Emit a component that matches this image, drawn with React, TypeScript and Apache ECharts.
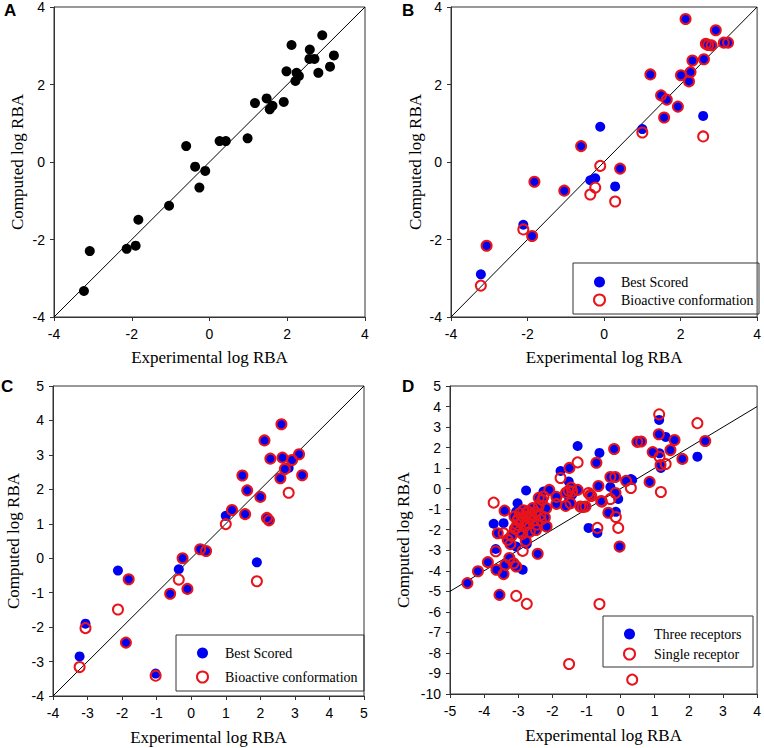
import React, { useEffect, useRef } from "react";
import * as echarts from "echarts";

// Panel A: experimental vs computed
const aExp = [-3.23, -3.08, -2.13, -1.9, -1.83, -1.04, -0.6, -0.37, -0.26, -0.11, 0.26, 0.42, 0.98, 1.17, 1.47, 1.55, 1.62, 1.91, 1.98, 2.11, 2.21, 2.24, 2.3, 2.58, 2.57, 2.7, 2.8, 2.9, 3.1, 3.2];
const aComp = [-3.33, -2.3, -2.24, -2.16, -1.49, -1.13, 0.41, -0.12, -0.66, -0.23, 0.54, 0.54, 0.61, 1.52, 1.64, 1.36, 1.45, 1.55, 2.34, 3.02, 2.09, 2.3, 2.22, 2.9, 2.66, 2.66, 2.3, 3.27, 2.46, 2.75];

// Panel B
const bExp = [-3.22, -3.07, -2.11, -1.88, -1.82, -1.04, -0.6, -0.36, -0.23, -0.1, 0.29, 0.42, 1.0, 1.21, 1.49, 1.57, 1.64, 1.93, 2.01, 2.13, 2.22, 2.26, 2.31, 2.59, 2.61, 2.66, 2.72, 2.81, 2.92, 3.13, 3.24];
const bBest = [-2.9, -2.16, -1.62, -1.91, -0.51, -0.74, 0.41, -0.47, -0.42, 0.91, -0.63, -0.17, 0.85, 2.26, 1.72, 1.15, 1.61, 1.43, 2.24, 3.69, 2.08, 2.32, 2.62, 1.19, 2.65, 3.05, 3.02, 3.01, 3.4, 3.08, 3.08];
const bBio = [-3.19, -2.16, -1.74, -1.91, -0.51, -0.74, 0.41, -0.84, -0.66, -0.1, -1.02, -0.17, 0.76, 2.26, 1.72, 1.15, 1.61, 1.43, 2.24, 3.69, 2.08, 2.32, 2.62, 0.66, 2.65, 3.05, 3.02, 3.01, 3.4, 3.08, 3.08];

// Panel C
const cExp = [-3.23, -3.06, -2.12, -1.89, -1.81, -1.03, -0.61, -0.36, -0.25, -0.11, 0.26, 0.43, 1.0, 1.18, 1.48, 1.56, 1.62, 1.9, 2.0, 2.12, 2.19, 2.25, 2.29, 2.58, 2.61, 2.64, 2.71, 2.82, 2.92, 3.12, 3.21];
const cBest = [-2.85, -1.9, -0.36, -2.45, -0.61, -3.35, -1.03, -0.32, 0.0, -0.89, 0.26, 0.21, 1.23, 1.4, 2.4, 1.28, 1.97, -0.12, 1.78, 3.42, 1.17, 1.1, 2.89, 2.32, 3.89, 2.92, 2.59, 2.62, 2.85, 3.02, 2.41];
const cBio = [-3.16, -2.03, -1.49, -2.45, -0.61, -3.41, -1.03, -0.62, 0.0, -0.89, 0.26, 0.21, 0.99, 1.4, 2.4, 1.28, 1.97, -0.67, 1.78, 3.42, 1.17, 1.1, 2.89, 2.32, 3.89, 2.92, 2.59, 1.9, 2.85, 3.02, 2.41];

// Panel D
const dExp = [-4.49, -4.18, -3.89, -3.64, -3.66, -3.72, -3.6, -3.55, -3.43, -3.43, -3.4, -3.38, -3.31, -3.26, -3.23, -3.14, -3.06, -3.06, -3.11, -3.03, -3.02, -3.06, -2.97, -2.87, -2.75, -2.77, -2.61, -2.48, -2.43, -2.34, -2.17, -2.26, -2.09, -1.88, -1.76, -1.61, -1.52, -1.5, -1.47, -1.42, -1.51, -1.26, -1.26, -1.18, -1.11, -0.94, -0.86, -0.71, -0.62, -0.65, -0.68, -0.57, -0.36, -0.3, -0.3, -0.19, -0.16, -0.15, -0.14, -0.07, -0.03, 0.16, 0.3, 0.34, 0.49, 0.6, 0.85, 0.94, 1.12, 1.13, 1.14, 1.18, 1.32, 1.17, 1.46, 1.58, 1.81, 2.25, 2.48, -0.89, -1.03, -0.55, -3.0, -2.95, -2.9, -2.85, -2.82, -2.78, -2.72, -2.7, -2.66, -2.62, -2.58, -2.55, -2.5, -2.45, -2.4, -2.35, -2.3, -2.22, -2.18, -2.88, -3.1, -3.2, -2.65, -2.78, -1.88, -2.4, -1.6, -1.45];
const dThree = [-4.6, -4.02, -3.58, -3.95, -2.94, -1.71, -2.17, -5.17, -4.16, -1.68, -1.07, -3.71, -2.49, -3.38, -2.7, -3.63, -3.79, -2.82, -1.36, -1.76, -0.71, -1.11, -2.09, -3.95, -2.7, -0.09, -1.36, -2.01, -3.17, -1.52, -1.84, -0.14, -0.06, -0.74, 0.86, -0.84, 0.35, 1.01, -0.71, -0.3, -0.45, 2.08, -0.06, -0.87, -0.89, -1.91, -0.36, 1.26, 1.74, 0.13, -2.16, -0.6, -1.17, 0.57, 0.08, 1.93, 0.57, -0.21, -1.13, -0.5, -2.82, 0.38, 0.47, 0.42, 2.28, 2.3, 0.33, 1.78, 2.65, 3.35, 1.72, 1.01, 2.52, 1.15, 1.88, 2.37, 1.45, 1.56, 2.32, -0.3, -0.87, -0.63, -1.45, -1.2, -1.6, -1.05, -1.85, -1.35, -1.1, -1.7, -2.1, -1.25, -0.95, -1.55, -1.15, -1.75, -0.85, -1.3, -0.55, -1.4, -0.95, -2.2, -1.95, -2.3, -1.45, -2.55, -0.4, -0.45, -0.2, 0.05];
const dSingle = [-4.6, -4.02, -3.58, -3.95, -3.05, -0.68, -2.17, -5.17, -4.16, -2.17, -1.07, -3.71, -2.49, -3.38, -2.7, -3.63, -3.79, -5.22, -1.36, -1.76, -1.55, -1.9, -2.09, -3.03, -5.61, -1.2, -1.36, -2.01, -3.17, -1.52, -1.84, -0.38, -0.06, -0.74, 0.52, -0.84, -0.1, 1.01, -0.71, -0.14, -8.54, 1.28, -0.06, -0.87, -0.89, -0.21, -0.36, 1.26, -5.62, 0.13, -1.91, -0.6, -1.17, 0.57, -0.5, 1.93, 0.57, -0.21, -1.38, -1.91, -2.82, 0.38, 0.03, -9.3, 2.28, 2.3, 0.33, 1.78, 2.65, 3.62, 1.55, -0.16, 1.2, 1.15, 1.88, 2.37, 1.45, 3.19, 2.32, -0.3, -0.87, -0.63, -1.45, -1.2, -1.6, -1.05, -1.85, -1.35, -1.1, -1.7, -2.1, -1.25, -0.95, -1.55, -1.15, -1.75, -0.85, -1.3, -0.55, -1.4, -0.95, -2.2, -1.95, -2.3, -1.45, -2.55, -0.4, -0.45, -0.2, 0.05];

const SANS = "'Liberation Sans', Arial, sans-serif";
const SERIF = "'Liberation Serif', 'Times New Roman', serif";
const BLUE = "#0000f0";
const RED = "#e8141b";
const AXIS = "#333";

const zip = (xs: number[], ys: number[]) => xs.map((x, i) => [x, ys[i]]);

function makeAxis(gridIndex: number, min: number, max: number, interval: number, dim: "x" | "y", nameGap: number) {
  return {
    gridIndex,
    type: "value",
    min,
    max,
    interval,
    name: dim === "x" ? "Experimental log RBA" : "Computed log RBA",
    nameLocation: "middle",
    nameGap,
    nameTextStyle: { fontFamily: SERIF, fontSize: 17, color: "#000" },
    axisLine: { show: true, onZero: false, lineStyle: { color: AXIS, width: 1 } },
    axisTick: { show: true, inside: false, length: 4, lineStyle: { color: AXIS } },
    axisLabel: { fontFamily: SANS, fontSize: 14, color: "#000", margin: dim === "x" ? 10 : 9 },
    splitLine: { show: false },
  };
}

const diag = (idx: number, lo: number, hi: number) => ({
  type: "line",
  xAxisIndex: idx,
  yAxisIndex: idx,
  data: [[lo, lo], [hi, hi]],
  symbol: "none",
  lineStyle: { color: "#000", width: 1 },
  z: 1,
  silent: true,
});

const filled = (name: string, idx: number, data: number[][], color: string) => ({
  type: "scatter",
  name,
  xAxisIndex: idx,
  yAxisIndex: idx,
  data,
  symbol: "circle",
  symbolSize: 10,
  itemStyle: { color, opacity: 1 },
  z: 2,
});

const open = (name: string, idx: number, data: number[][]) => ({
  type: "scatter",
  name,
  xAxisIndex: idx,
  yAxisIndex: idx,
  data,
  symbol: "circle",
  symbolSize: 10,
  itemStyle: { color: "rgba(255,255,255,0)", borderColor: RED, borderWidth: 2, opacity: 1 },
  z: 3,
});

function legend(left: number, top: number, gap: number, pad: number, names: [string, string]) {
  return {
    left,
    top,
    orient: "vertical",
    itemGap: gap,
    itemWidth: 11,
    itemHeight: 11,
    padding: 0,
    selectedMode: false,
    data: [
      { name: names[0], icon: "circle", itemStyle: { color: BLUE } },
      { name: names[1], icon: "circle", itemStyle: { color: "#fff", borderColor: RED, borderWidth: 2 } },
    ],
    textStyle: { fontFamily: SERIF, fontSize: 14, color: "#000", lineHeight: 11, padding: [0, 0, 0, pad] },
  };
}

export default function App() {
  const ref = useRef<HTMLDivElement>(null);
  useEffect(() => {
    if (!ref.current) return;
    const chart = echarts.init(ref.current, null, { renderer: "svg" });
    const option = {
      animation: false,
      backgroundColor: "#fff",
      grid: [
        { left: 54, top: 6, width: 311, height: 311, show: true, borderColor: AXIS, borderWidth: 1 },
        { left: 451, top: 6, width: 309, height: 311, show: true, borderColor: AXIS, borderWidth: 1 },
        { left: 53, top: 386, width: 311, height: 310, show: true, borderColor: AXIS, borderWidth: 1 },
        { left: 450, top: 386, width: 310, height: 308, show: true, borderColor: AXIS, borderWidth: 1 },
      ],
      xAxis: [
        makeAxis(0, -4, 4, 2, "x", 32),
        makeAxis(1, -4, 4, 2, "x", 32),
        makeAxis(2, -4, 5, 1, "x", 33),
        makeAxis(3, -5, 4, 1, "x", 33),
      ],
      yAxis: [
        makeAxis(0, -4, 4, 2, "y", 28),
        makeAxis(1, -4, 4, 2, "y", 27),
        makeAxis(2, -4, 5, 1, "y", 31),
        makeAxis(3, -10, 5, 1, "y", 38),
      ],
      legend: [
        legend(593, 275, 4, 11, ["Best Scored", "Bioactive conformation"]),
        legend(196, 646, 10, 12, ["Best Scored", "Bioactive conformation"]),
        legend(623, 627, 6, 14, ["Three receptors", "Single receptor"]),
      ],
      graphic: [
        { type: "rect", shape: { x: 573, y: 263, width: 186, height: 51 }, style: { fill: "none", stroke: AXIS, lineWidth: 1 }, z: 1 },
        { type: "rect", shape: { x: 176, y: 635, width: 188, height: 56 }, style: { fill: "none", stroke: AXIS, lineWidth: 1 }, z: 1 },
        { type: "rect", shape: { x: 603, y: 616, width: 150, height: 51 }, style: { fill: "none", stroke: AXIS, lineWidth: 1 }, z: 1 },
        { type: "text", left: 4, top: 2, style: { text: "A", font: `bold 17px ${SANS}`, fill: "#000" } },
        { type: "text", left: 402, top: 2, style: { text: "B", font: `bold 17px ${SANS}`, fill: "#000" } },
        { type: "text", left: 1, top: 378, style: { text: "C", font: `bold 17px ${SANS}`, fill: "#000" } },
        { type: "text", left: 402, top: 378, style: { text: "D", font: `bold 17px ${SANS}`, fill: "#000" } },
      ],
      series: [
        diag(0, -4, 4),
        diag(1, -4, 4),
        diag(2, -4, 5),
        diag(3, -5, 4),
        filled("Panel A", 0, zip(aExp, aComp), "#000"),
        filled("Best Scored", 1, zip(bExp, bBest), BLUE),
        open("Bioactive conformation", 1, zip(bExp, bBio)),
        filled("Best Scored", 2, zip(cExp, cBest), BLUE),
        open("Bioactive conformation", 2, zip(cExp, cBio)),
        filled("Three receptors", 3, zip(dExp, dThree), BLUE),
        open("Single receptor", 3, zip(dExp, dSingle)),
      ],
    };
    chart.setOption(option as any);
    return () => chart.dispose();
  }, []);
  return <div ref={ref} style={{ position: "fixed", left: 0, top: 0, width: 764, height: 748 }} />;
}
